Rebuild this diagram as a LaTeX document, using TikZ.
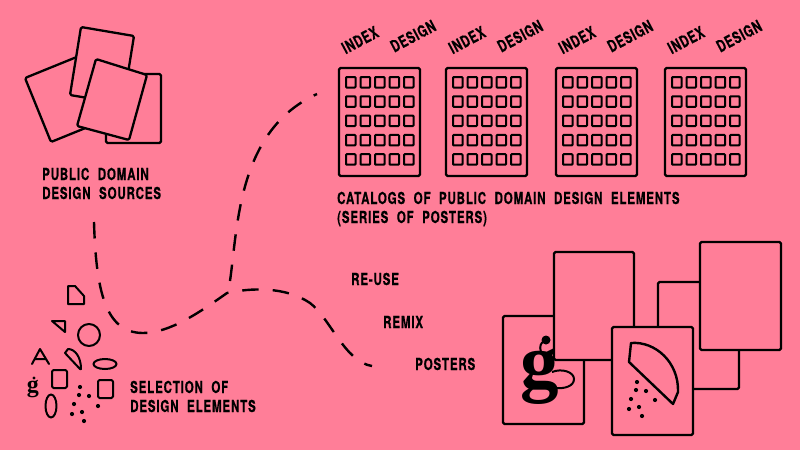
\documentclass[tikz,border=0pt]{standalone}
\usepackage{fontspec}
\newfontfamily\din[FakeStretch=0.7,LetterSpace=5,WordSpace=2.1,FakeBold=0.4]{TeX Gyre Heros Bold}
\newfontfamily\gfont{Liberation Serif Bold}
\definecolor{bg}{HTML}{FF7E98}
\tikzset{
  sheet/.style={draw=black,fill=bg,line width=2.3pt,rounded corners=1.5pt,line join=round},
  cell/.style={draw=black,line width=2pt,rounded corners=.8pt},
  shapeline/.style={draw=black,line width=2pt,line join=round},
  trail/.style={draw=black,line width=2.4pt,dash pattern=on 16.5pt off 14pt},
  lab/.style={font=\din\fontsize{16.5}{19}\selectfont,inner sep=0pt,anchor=base west,align=left,text=black},
  rotlab/.style={font=\din\fontsize{16.5}{19}\selectfont,inner sep=0pt,anchor=center,rotate=28,text=black},
}
\begin{document}
\begin{tikzpicture}[x=1pt,y=-1pt]
\fill[bg] (0,0) rectangle (800,450);
\useasboundingbox (0,0) rectangle (800,450);
% sources
\draw[sheet] (25,78) -- (89,52) -- (115,116) -- (51,142) -- cycle;
\draw[sheet] (106,74) -- (161,74) -- (161,143) -- (106,143) -- cycle;
\draw[sheet] (81,27) -- (134,36) -- (123,104) -- (70,95) -- cycle;
\draw[sheet] (96,59) -- (147,75) -- (129,140) -- (77,126) -- cycle;
\node[lab] (sources) at (42,199) {PUBLIC DOMAIN\\DESIGN SOURCES};
% catalogs
\foreach \x/\n in {339/a,446/b,556/c,665/d}{
  \draw[sheet] (\x,68) rectangle ++(81,108);
  \foreach \i in {0,...,4}\foreach \j in {0,...,4}
    \draw[cell] ({\x+7+14.5*\i},{77+19.3*\j}) rectangle ++(9.5,10.5);
  \node[rotlab] (idx\n) at ({\x+21},40) {INDEX};
  \node[rotlab] (des\n) at ({\x+74},36) {DESIGN};
}
\node[lab] (catalogs) at (337,223) {CATALOGS OF PUBLIC DOMAIN DESIGN ELEMENTS\\(SERIES OF POSTERS)};
\node[lab] (reuse) at (351,285) {RE-USE};
\node[lab] (remix) at (383,328) {REMIX};
\node[lab] (posters) at (415,370) {POSTERS};
\node[lab] (selection) at (130,412) {SELECTION OF\\DESIGN ELEMENTS};
% dashed paths
\coordinate (fromsources) at (94,222);
\coordinate (bend) at (143,333);
\coordinate (fork) at (227,293);
\coordinate (crest) at (310,303);
\coordinate (forkup) at (230,281);
\coordinate (tocatalogs) at (317,94);
\coordinate (toposters) at (372,366);
\draw[trail] (fromsources) .. controls (96,290) and (105,333) .. (bend) .. controls (170,333) and (200,312) .. (fork) .. controls (250,288) and (285,286) .. (crest) .. controls (330,318) and (345,362) .. (toposters);
\draw[trail] (forkup) .. controls (238,225) and (238,130) .. (tocatalogs);
% elements
\draw[shapeline] (68,286) -- (75,286) -- (84,296) -- (84,304) -- (68,304) -- cycle;
\draw[shapeline] (52,321) -- (65,321) -- (65,332) -- cycle;
\draw[shapeline] (89,335) circle[radius=11pt];
\draw[shapeline,line cap=round] (32,364) -- (40,349) -- (49,364) (35,359) -- (46,359);
\draw[shapeline] (65,353) -- (68,349) .. controls (75,349) and (81,357) .. (81,369) -- (80,369) -- cycle;
\draw[shapeline] (105,364) ellipse[x radius=11.5pt,y radius=5pt];
\draw[shapeline,rounded corners=1.5pt] (52,370) rectangle (67,388);
\draw[shapeline,rounded corners=1.5pt] (98,380) rectangle (113,398);
\draw[shapeline] (51,406) ellipse[x radius=5.5pt,y radius=11.5pt];
\node[font=\gfont\fontsize{24}{24}\selectfont,inner sep=0pt,anchor=base] (smallg) at (33,392.5) {g};
\fill (34,378) circle[radius=1.6pt];
\foreach \p in {(80,387),(79,395),(89,396),(74,404),(98,406),(82,412),(72,414),(84,421)}
  \fill \p circle[radius=2.1pt];
% posters
\draw[sheet] (658,282) rectangle (739,389);
\draw[sheet] (503,316) rectangle (584,424);
\node[font=\gfont\fontsize{77}{77}\selectfont,inner sep=0pt,anchor=base] (bigg) at (540,387) {g};
\draw[sheet] (554,252) rectangle (634,360);
\draw[sheet] (612,327) rectangle (693,435);
\draw[sheet] (700,242) rectangle (781,350);
\fill (546,340) circle[radius=4.5pt];
\draw[line width=2pt] (541,352) .. controls (539,346) and (541,343) .. (544,341);
\draw[line width=2pt] (552,372) .. controls (562,368) and (574,372) .. (574,379) .. controls (574,386) and (565,389) .. (555,388);
\draw[line width=2.4pt,line join=round] (629,362) -- (631,343) .. controls (655,341) and (679,362) .. (678,392) -- (673,404) -- cycle;
\foreach \p in {(637,382),(636,390),(646,391),(631,399),(655,400),(639,407),(629,409),(642,416)}
  \fill \p circle[radius=2.1pt];
\end{tikzpicture}
\end{document}
